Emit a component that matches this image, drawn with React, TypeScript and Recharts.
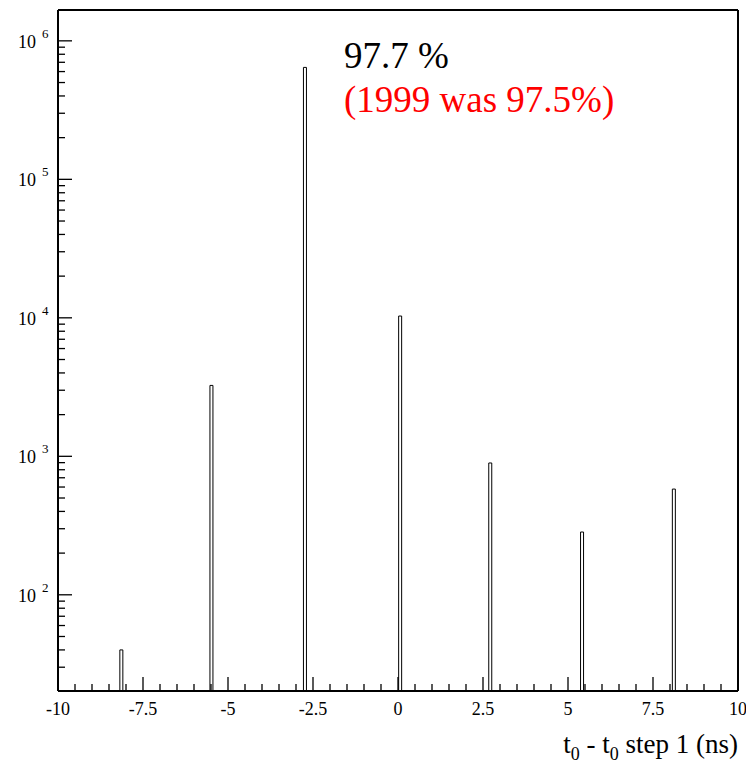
import { ComposedChart, Bar, XAxis, YAxis, ReferenceLine } from 'recharts';

// t0 - t0(step 1) histogram, log scale
const binCenters = [-8.15, -5.5, -2.75, 0.05, 2.7, 5.4, 8.1];
const counts = [40, 3250, 643000, 10300, 895, 284, 580];

const xMajorTicks = [-10, -7.5, -5, -2.5, 0, 2.5, 5, 7.5, 10];
const xMajorLabels = ['-10', '-7.5', '-5', '-2.5', '0', '2.5', '5', '7.5', '10'];
const yMajorTicks = [100, 1000, 10000, 100000, 1000000];
const yExponents = ['2', '3', '4', '5', '6'];
const yMinorMultipliers = [2, 3, 4, 5, 6, 7, 8, 9];

const Y_MIN = 20.2;
const Y_MAX = 1.67e6;
const serif = { fontFamily: '"Liberation Serif", "DejaVu Serif", serif' };

const data = binCenters.map((x, i) => ({ x, count: counts[i] }));

const xTicks = Array.from({ length: 41 }, (_, i) => -10 + i * 0.5);
const yTicks = [10, ...yMajorTicks]
  .flatMap((d) => [d, ...yMinorMultipliers.map((m) => d * m)])
  .filter((v) => v >= Y_MIN && v <= Y_MAX);

const XTick = ({ x, y, payload }: any) => {
  const idx = xMajorTicks.indexOf(payload.value);
  const major = idx >= 0;
  return (
    <g>
      <line x1={x} x2={x} y1={y} y2={y - (major ? 14 : 7)} stroke="#000" strokeWidth={1.3} />
      {major && (
        <text x={x} y={y + 24} textAnchor="middle" style={serif} fontSize={18} fill="#000">
          {xMajorLabels[idx]}
        </text>
      )}
    </g>
  );
};

const YTick = ({ x, y, payload }: any) => {
  const idx = yMajorTicks.indexOf(payload.value);
  const major = idx >= 0;
  return (
    <g>
      <line x1={x} x2={x + (major ? 14 : 7)} y1={y} y2={y} stroke="#000" strokeWidth={1.3} />
      {major && (
        <g fill="#000">
          <text x={x - 22} y={y + 7} textAnchor="end" style={serif} fontSize={18}>10</text>
          <text x={x - 16} y={y - 3} textAnchor="start" style={serif} fontSize={13}>{yExponents[idx]}</text>
        </g>
      )}
    </g>
  );
};

export default function App() {
  return (
    <div style={{ position: 'absolute', left: 0, top: 0, width: 746, height: 765, background: '#fff' }}>
      <ComposedChart
        width={746}
        height={765}
        data={data}
        margin={{ top: 10, right: 8, bottom: 0, left: 0 }}
      >
        <XAxis
          dataKey="x"
          type="number"
          domain={[-10, 10]}
          ticks={xTicks}
          interval={0}
          tick={<XTick />}
          tickLine={false}
          tickSize={0}
          tickMargin={0}
          height={74}
          axisLine={{ stroke: '#000', strokeWidth: 2 }}
          allowDataOverflow
        />
        <YAxis
          type="number"
          scale="log"
          domain={[Y_MIN, Y_MAX]}
          ticks={yTicks}
          interval={0}
          tick={<YTick />}
          tickLine={false}
          tickSize={0}
          tickMargin={0}
          width={58}
          axisLine={{ stroke: '#000', strokeWidth: 2 }}
          allowDataOverflow
        />
        <ReferenceLine y={Y_MAX} stroke="#000" strokeWidth={2} />
        <ReferenceLine x={10} stroke="#000" strokeWidth={2} />
        <Bar
          dataKey="count"
          barSize={3}
          fill="#fff"
          stroke="#000"
          strokeWidth={1}
          isAnimationActive={false}
        />
      </ComposedChart>
      <svg
        width={746}
        height={765}
        style={{ position: 'absolute', left: 0, top: 0, pointerEvents: 'none' }}
      >
        <text x={344} y={68} style={serif} fontSize={37} fill="#000">97.7 %</text>
        <text x={344} y={112} style={serif} fontSize={37} fill="#ff0000">(1999 was 97.5%)</text>
        <text x={738} y={753} textAnchor="end" style={serif} fontSize={27} fill="#000">
          t<tspan dy={7} fontSize={18}>0</tspan>
          <tspan dy={-7}> - t</tspan>
          <tspan dy={7} fontSize={18}>0</tspan>
          <tspan dy={-7}> step 1 (ns)</tspan>
        </text>
      </svg>
    </div>
  );
}
